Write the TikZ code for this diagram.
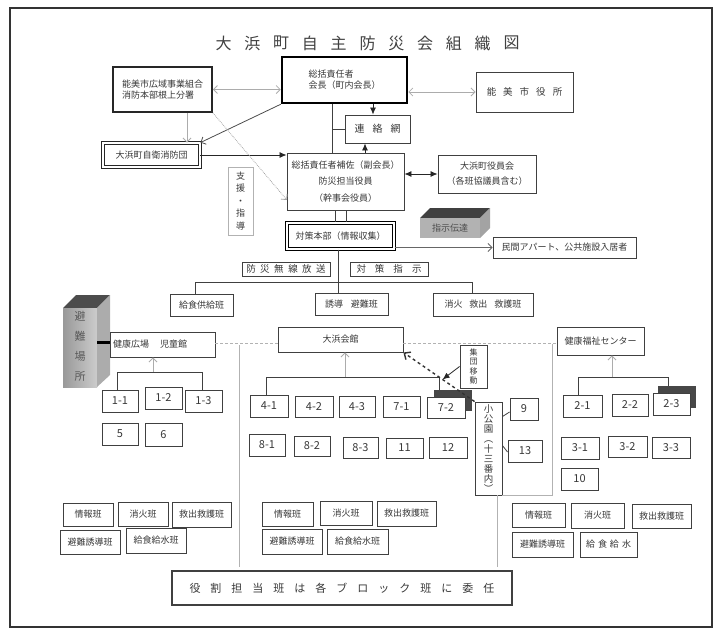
\documentclass[tikz,border=0pt]{standalone}
\usepackage{fontspec}
\setmainfont{Noto Sans CJK JP}
\usetikzlibrary{arrows.meta,calc}
\definecolor{ln}{gray}{0.25}
\definecolor{tx}{gray}{0.22}
\tikzset{
  bx/.style={draw=ln, line width=0.9pt, fill=white, inner sep=0pt, text=tx,
    font=\fontsize{9}{11}\selectfont, align=center},
  num/.style={font=\fontsize{11}{12}\selectfont},
  lnk/.style={draw=ln, line width=0.8pt},
  oa/.style={draw=gray!65, line width=0.8pt, -{Straight Barb[length=4pt,width=8pt]}},
  oaa/.style={draw=gray!65, line width=0.8pt, {Straight Barb[length=4pt,width=8pt]}-{Straight Barb[length=4pt,width=8pt]}},
  fa/.style={draw=black!85, line width=0.8pt, -{Latex[length=7pt,width=6pt]}},
  faa/.style={draw=black!85, line width=0.8pt, {Latex[length=7pt,width=6pt]}-{Latex[length=7pt,width=6pt]}},
  sep/.style={draw=gray!60, line width=0.6pt},
  dots/.style={draw=gray!60, line width=0.8pt, densely dashed},
  shadowbox/.style={fill=black!72, draw=none, inner sep=0pt},
}
\newcommand\bxn[7]{\node[bx,#2,minimum width={#5-#3},minimum height={#6-#4}] (#1) at ({(#3+#5)/2},{(#4+#6)/2}) {#7};}
\begin{document}
\begin{tikzpicture}[x=1pt,y=-1pt]
\useasboundingbox (0,0) rectangle (721,635);
\draw[line width=1.2pt, black!80] (10,8) rectangle (712,627);

% title
\foreach \c [count=\i from 0] in {大,浜,町,自,主,防,災,会,組,織,図}
  \node[font=\fontsize{16}{16}\selectfont, text=black!75, inner sep=0pt] (t\i) at (223.5+28.8*\i,43) {\c};

% top level
\bxn{sou}{line width=2.5pt, draw=black, align=left}{282}{57}{407}{103}{総括責任者\\会長（町内会長）}
\bxn{kouiki}{line width=1.8pt, draw=black!85, align=left}{113}{67}{212}{112}{能美市広域事業組合\\消防本部根上分署}
\bxn{shiyaku}{font=\fontsize{9.5}{11}\selectfont}{476}{72}{573}{112}{能\hspace{7pt}美\hspace{7pt}市\hspace{7pt}役\hspace{7pt}所}
\bxn{renraku}{font=\fontsize{10}{12}\selectfont}{345}{115}{410}{143}{連\hspace{8pt}絡\hspace{8pt}網}
\bxn{jiei}{double=white, double distance=1.3pt, line width=0.9pt, draw=black!85}{103}{143}{200}{167}{大浜町自衛消防団}
\bxn{hosa}{font=\fontsize{9}{16.5}\selectfont}{287}{153}{404}{210}{総括責任者補佐（副会長）\\防災担当役員\\（幹事会役員）}
\bxn{shien}{font=\fontsize{9}{12.5}\selectfont, draw=gray!60}{228}{167}{253}{235}{支\\援\\・\\指\\導}
\bxn{yakuin}{font=\fontsize{9}{15}\selectfont}{438}{155}{536}{193}{大浜町役員会\\（各班協議員含む）}
\bxn{taisaku}{double=white, double distance=1.5pt, line width=1.3pt, draw=black}{287}{223}{394}{249}{対策本部（情報収集）}
\bxn{minkan}{}{493}{237}{636}{258}{民間アパート、公共施設入居者}

% 3D box 指示伝達
\fill[black!75] (420,218) -- (430,208) -- (490,208) -- (480,218) -- cycle;
\fill[gray!60] (420,218) rectangle (480,238);
\fill[gray!72] (480,218) -- (490,208) -- (490,228) -- (480,238) -- cycle;
\node[font=\fontsize{9}{10}\selectfont, text=black!70, inner sep=0pt] (shiji) at (450,228) {指示伝達};

\bxn{bousai}{font=\fontsize{9.5}{11}\selectfont}{242}{262}{330}{276}{防\hspace{4.5pt}災\hspace{4.5pt}無\hspace{4.5pt}線\hspace{4.5pt}放\hspace{4.5pt}送}
\bxn{tshiji}{font=\fontsize{9.5}{11}\selectfont}{350}{262}{428}{276}{対\hspace{9pt}策\hspace{9pt}指\hspace{9pt}示}
\bxn{kyushoku}{}{170}{294}{233}{316}{給食供給班}
\bxn{yudo}{}{315}{293}{388}{315}{誘導\hspace{8pt}避難班}
\bxn{shoka}{}{433}{293}{533}{316}{消火\hspace{7pt}救出\hspace{7pt}救護班}

% connectors top
\draw[oaa] (kouiki.east) -- (sou.west |- kouiki.east);
\draw[oaa] (sou.east |- shiyaku.west) -- (shiyaku.west);
\coordinate (c373) at (373,0);
\draw[fa] (sou.south -| c373) -- (renraku.north -| c373);
\coordinate (c332) at (332,0);
\draw[lnk] (sou.south -| c332) -- (hosa.north -| c332);
\draw[lnk] (c332 |- renraku.west) -- (renraku.west);
\coordinate (c365) at (365,0);
\draw[fa] (hosa.north -| c365) -- (renraku.south -| c365);
\coordinate (c187) at (187,0);
\draw[oa] (kouiki.south -| c187) -- (jiei.north -| c187);
\draw[oa, draw=black!70] (sou.south west) -- (jiei.north east);
\draw[fa] (jiei.east) -- (hosa.west |- jiei.east);
\coordinate (hd) at (287,200);
\draw[oa, densely dotted, draw=gray!70] (kouiki.south east) -- (hd);
\draw[faa] (hosa.east |- yakuin.west) -- (yakuin.west);
\coordinate (c335) at (335,0);
\coordinate (c346) at (346,0);
\draw[lnk, line width=1pt] (hosa.south -| c335) -- (taisaku.north -| c335);
\draw[lnk, line width=1pt] (hosa.south -| c346) -- (taisaku.north -| c346);
\draw[oa, draw=black!60] (taisaku.east |- minkan.west) -- (minkan.west);

% bus under 対策本部
\coordinate (bus) at (0,282);
\coordinate (c338) at (338,0);
\coordinate (c195) at (195,0);
\coordinate (c472) at (472,0);
\draw[lnk] (taisaku.south -| c338) -- (yudo.north -| c338);
\draw[lnk] (kyushoku.north -| c195) |- (bus -| c472) -- (shoka.north -| c472);

% 3D box 避難場所
\fill[black!70] (63,308) -- (76,295) -- (110,295) -- (97,308) -- cycle;
\shade[left color=gray!80, right color=gray!40] (63,308) rectangle (97,387);
\fill[gray!65] (97,308) -- (110,295) -- (110,375) -- (97,387) -- cycle;
\node[font=\fontsize{11}{20}\selectfont, text=black!65, align=center, inner sep=0pt] (hinan) at (80,346) {避\\難\\場\\所};

% mid level
\bxn{nogaku}{}{110}{332}{215}{357}{}
\node[font=\fontsize{9}{11}\selectfont, text=tx, anchor=west, inner sep=0pt] (nogakut) at (113,344.5) {健康広場\hspace{11pt}児童館};
\draw[line width=3pt, black] (97,342) -- (nogaku.west |- 0,342);
\bxn{kaikan}{}{278}{327}{403}{352}{大浜会館}
\bxn{kenko}{}{557}{327}{644}{355}{健康福祉センター}
\coordinate (y343) at (0,343);
\draw[dots] (nogaku.east |- y343) -- (kaikan.west |- y343);
\draw[dots] (kaikan.east |- y343) -- (kenko.west |- y343);

% separators
\coordinate (s1a) at (239,345);
\coordinate (s1b) at (239,567);
\draw[sep] (s1a) -- (s1b);

% left group
\bxn{b11}{num}{102}{390}{138}{412}{1-1}
\bxn{b12}{num}{145}{387}{182}{409}{1-2}
\bxn{b13}{num}{185}{390}{222}{412}{1-3}
\bxn{b5}{num}{102}{423}{138}{445}{5}
\bxn{b6}{num}{145}{423}{182}{446}{6}
\coordinate (y372) at (0,372);
\coordinate (c117) at (117,0);
\coordinate (c202) at (202,0);
\coordinate (c153) at (153,0);
\draw[lnk] (b11.north -| c117) |- (y372 -| c202) -- (b13.north -| c202);
\draw[oa] (y372 -| c153) -- (nogaku.south -| c153);

% middle group
\node[shadowbox, minimum width=38, minimum height=21] (b72s) at (453,400.5) {};
\bxn{b41}{num}{250}{395}{288}{417}{4-1}
\bxn{b42}{num}{295}{396}{333}{417}{4-2}
\bxn{b43}{num}{339}{396}{375}{417}{4-3}
\bxn{b71}{num}{383}{396}{420}{417}{7-1}
\bxn{b72}{num}{427}{397}{465}{418}{7-2}
\bxn{b81}{num}{249}{434}{285}{456}{8-1}
\bxn{b82}{num}{294}{436}{330}{456}{8-2}
\bxn{b83}{num}{343}{437}{378}{458}{8-3}
\bxn{b11x}{num}{386}{438}{423}{458}{11}
\bxn{b12x}{num}{429}{437}{467}{458}{12}
\coordinate (y377) at (0,377);
\coordinate (c266) at (266,0);
\coordinate (c439) at (439,0);
\coordinate (c345) at (345,0);
\draw[lnk] (b41.north -| c266) |- (y377 -| c439) -- (b72s.north -| c439);
\draw[oa] (y377 -| c345) -- (kaikan.south -| c345);

\bxn{syudan}{font=\fontsize{8}{9.5}\selectfont}{460}{345}{487}{388}{集\\団\\移\\動}
\bxn{kouen}{font=\fontsize{9.5}{10}\selectfont}{475}{402}{502}{495}{小\\公\\園\\︵\\十\\三\\番\\内\\︶}
\bxn{n9}{num}{510}{398}{538}{420}{9}
\bxn{n13}{num}{508}{440}{542}{462}{13}
\draw[lnk] ($(kouen.north east)+(0,15)$) -- ($(n9.west)+(0,3)$);
\draw[lnk] ($(kouen.north east)+(0,44)$) -- ($(n13.west)+(0,1)$);
\draw[dashed, line width=1.4pt, black!80, -{Straight Barb[length=5pt,width=9pt]}] (kouen.north west) -- (kaikan.south east);
\coordinate (dm) at ($(kouen.north west)!0.45!(kaikan.south east)$);
\draw[fa] (syudan.west) -- (dm);

% right separator
\coordinate (s2a) at (552,344);
\coordinate (c497) at (497,0);
\coordinate (s2b) at (497,567);
\draw[sep] (s2a) |- (kouen.south east);
\draw[sep] (kouen.south -| c497) -- (s2b);

% right group
\node[shadowbox, minimum width=38, minimum height=22] (b23s) at (677,397) {};
\bxn{b21}{num}{563}{395}{602}{417}{2-1}
\bxn{b22}{num}{612}{394}{648}{416}{2-2}
\bxn{b23}{num}{653}{393}{690}{415}{2-3}
\bxn{b31}{num}{561}{437}{599}{459}{3-1}
\bxn{b32}{num}{608}{436}{647}{457}{3-2}
\bxn{b33}{num}{652}{437}{690}{458}{3-3}
\bxn{b10}{num}{561}{468}{598}{490}{10}
\coordinate (c578) at (578,0);
\coordinate (c668) at (668,0);
\coordinate (c612) at (612,0);
\draw[lnk] (b21.north -| c578) |- (y377 -| c668) -- (b23s.north -| c668);
\draw[oa] (y377 -| c612) -- (kenko.south -| c612);

% bottom groups
\bxn{L1}{}{63}{503}{113}{526}{情報班}
\bxn{L2}{}{118}{502}{168}{526}{消火班}
\bxn{L3}{}{172}{502}{231}{527}{救出救護班}
\bxn{L4}{}{60}{530}{120}{554}{避難誘導班}
\bxn{L5}{}{126}{528}{186}{553}{給食給水班}
\bxn{M1}{}{262}{502}{313}{526}{情報班}
\bxn{M2}{}{320}{501}{372}{525}{消火班}
\bxn{M3}{}{377}{501}{436}{526}{救出救護班}
\bxn{M4}{}{262}{529}{322}{554}{避難誘導班}
\bxn{M5}{}{327}{529}{388}{554}{給食給水班}
\bxn{R1}{}{512}{503}{565}{527}{情報班}
\bxn{R2}{}{571}{503}{624}{528}{消火班}
\bxn{R3}{}{632}{504}{691}{528}{救出救護班}
\bxn{R4}{}{512}{532}{573}{557}{避難誘導班}
\bxn{R5}{}{580}{532}{637}{557}{給\hspace{3pt}食\hspace{3pt}給\hspace{3pt}水}

\bxn{itaku}{line width=1.3pt, font=\fontsize{11}{12}\selectfont}{172}{571}{512}{605}{役\hspace{10pt}割\hspace{10pt}担\hspace{10pt}当\hspace{10pt}班\hspace{10pt}は\hspace{10pt}各\hspace{10pt}ブ\hspace{10pt}ロ\hspace{10pt}ッ\hspace{10pt}ク\hspace{10pt}班\hspace{10pt}に\hspace{10pt}委\hspace{10pt}任}
\end{tikzpicture}
\end{document}
